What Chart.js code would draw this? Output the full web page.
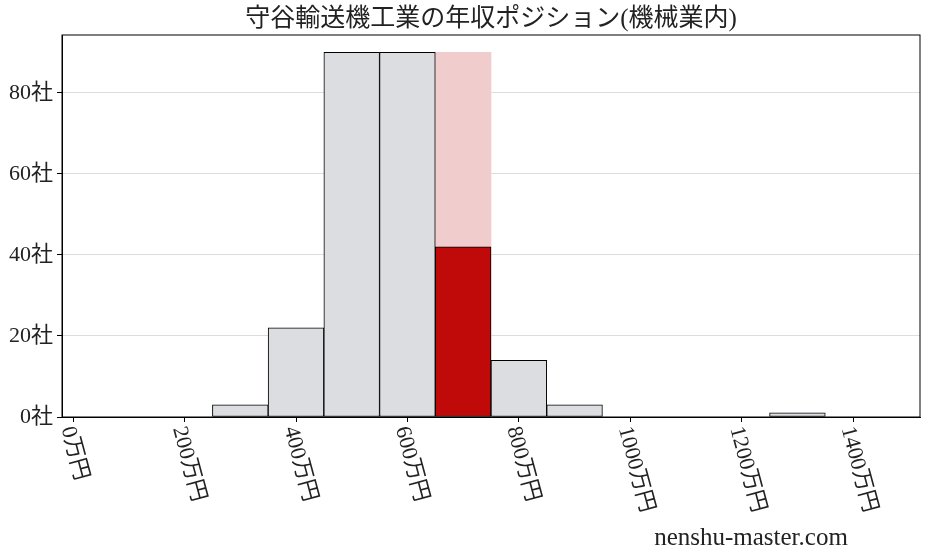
<!DOCTYPE html>
<html>
<head>
<meta charset="utf-8">
<script src="https://cdn.jsdelivr.net/npm/chart.js@4.4.1/dist/chart.umd.min.js"></script>
<style>
  body { margin: 0; background: #fff; }
  #chart-container { width: 927px; height: 557px; }
</style>
</head>
<body>
<div id="chart-container"><canvas id="myChart"></canvas></div>
<script>
// histogram bins (万円, bin centres) and number of companies in each
var binCenters = [300, 400, 500, 600, 700, 800, 900, 1300];
var companyCounts = [3, 22, 90, 90, 42, 14, 3, 1];
// the company's own bin, drawn in red with a pale column behind it
var highlightBin = 700;
var highlightTop = 90;

var xTickValues = [0, 200, 400, 600, 800, 1000, 1200, 1400];
var xTickLabels = ['0万円', '200万円', '400万円', '600万円', '800万円', '1000万円', '1200万円', '1400万円'];
var yTickValues = [0, 20, 40, 60, 80];

var titleText = '守谷輸送機工業の年収ポジション(機械業内)';
var siteText = 'nenshu-master.com';

var serif = "'Liberation Serif', 'DejaVu Serif', 'Noto Sans CJK JP', serif";
var grey = '#dcdde0';
var red = '#c00a0a';
var pink = '#f0cccc';

var barColors = binCenters.map(function (b) { return b === highlightBin ? red : grey; });

// frame round the plot, title over the plot, rotated x labels and the site name
var extrasPlugin = {
  id: 'extras',
  afterDraw: function (chart) {
    var ctx = chart.ctx;
    var area = chart.chartArea;
    var xs = chart.scales.x;
    ctx.save();
    ctx.strokeStyle = '#000';
    ctx.lineWidth = 1;
    ctx.strokeRect(area.left, area.top, area.right - area.left, area.bottom - area.top);

    ctx.fillStyle = '#222';
    ctx.textAlign = 'center';
    ctx.textBaseline = 'middle';
    ctx.font = '25px ' + serif;
    ctx.fillText(titleText, (area.left + area.right) / 2, 19);

    ctx.font = '22px ' + serif;
    ctx.textAlign = 'left';
    xTickValues.forEach(function (v, i) {
      var px = xs.getPixelForValue(v);
      ctx.save();
      ctx.translate(px - 6, area.bottom + 10);
      ctx.rotate(75 * Math.PI / 180);
      ctx.fillText(xTickLabels[i], 0, 0);
      ctx.restore();
    });

    ctx.textAlign = 'center';
    ctx.textBaseline = 'alphabetic';
    ctx.font = '25px ' + serif;
    ctx.fillText(siteText, 751, 545);
    ctx.restore();
  }
};

var ctx = document.getElementById('myChart');
var myChart = new Chart(ctx, {
  type: 'bar',
  data: {
    datasets: [{
      label: 'companies',
      data: binCenters.map(function (b, i) { return { x: b, y: companyCounts[i] }; }),
      backgroundColor: barColors,
      borderColor: '#000',
      borderWidth: 1,
      borderSkipped: false,
      grouped: false,
      barPercentage: 1,
      categoryPercentage: 1
    }, {
      label: 'position',
      data: [{ x: highlightBin, y: highlightTop }],
      backgroundColor: pink,
      borderWidth: 0,
      grouped: false,
      barPercentage: 1,
      categoryPercentage: 1
    }]
  },
  options: {
    responsive: true,
    maintainAspectRatio: false,
    animation: false,
    layout: { padding: { left: 0, right: 7, top: 35, bottom: 0 } },
    plugins: {
      legend: { display: false },
      tooltip: { enabled: false },
      title: { display: false }
    },
    scales: {
      x: {
        type: 'linear',
        min: -20,
        max: 1520,
        offset: false,
        afterBuildTicks: function (scale) {
          scale.ticks = xTickValues.map(function (v) { return { value: v }; });
        },
        afterFit: function (scale) { scale.height = 140; },
        ticks: { display: false },
        grid: { offset: false, drawOnChartArea: false, drawTicks: true, tickLength: 5, tickColor: '#000' },
        border: { display: true, color: '#000', width: 1 }
      },
      y: {
        min: 0,
        max: 94.3,
        afterBuildTicks: function (scale) {
          scale.ticks = yTickValues.map(function (v) { return { value: v }; });
        },
        afterFit: function (scale) { scale.width = 62; },
        ticks: {
          color: '#222',
          padding: 4,
          font: { family: serif, size: 22 },
          callback: function (v) { return v + '社'; }
        },
        grid: { color: '#dddddd', tickColor: '#000', tickLength: 5 },
        border: { display: true, color: '#000', width: 1 }
      }
    }
  },
  plugins: [extrasPlugin]
});
</script>
</body>
</html>
